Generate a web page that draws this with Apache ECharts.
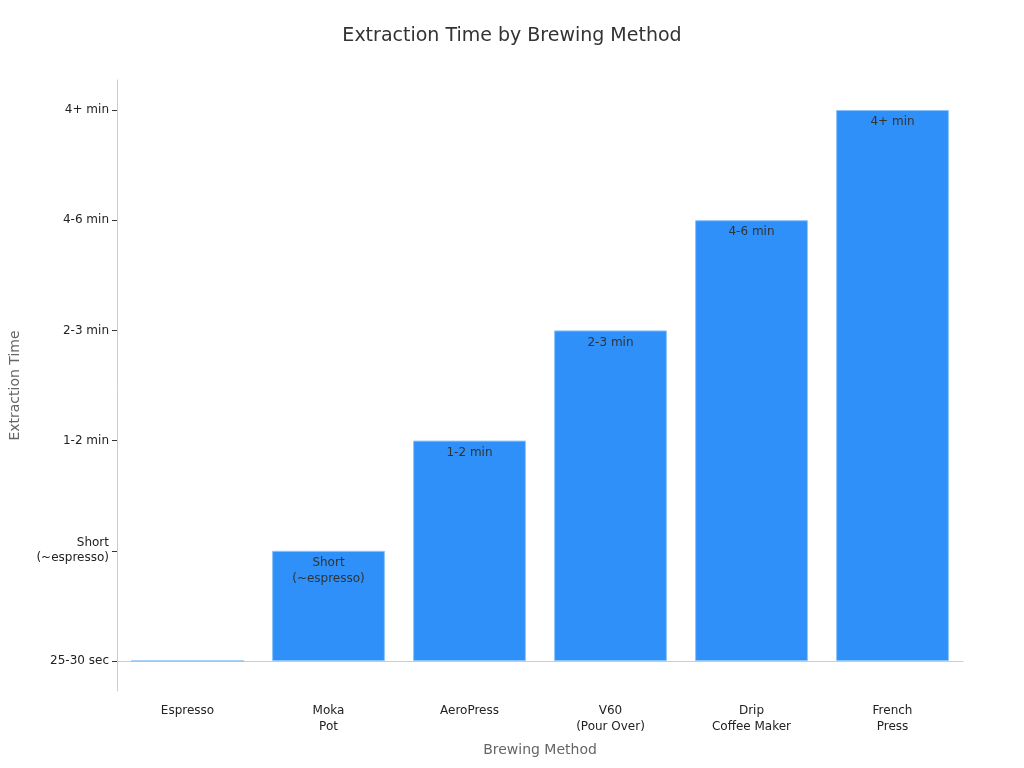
<!DOCTYPE html>
<html><head><meta charset="utf-8">
<script src="https://cdn.jsdelivr.net/npm/echarts@6/dist/echarts.min.js"></script>
<style>html,body{margin:0;padding:0;background:#fff}#c{width:1024px;height:768px}</style>
</head><body><div id="c"></div>
<script>
const categories = ['Espresso','Moka\nPot','AeroPress','V60\n(Pour Over)','Drip\nCoffee Maker','French\nPress'];
const levelLabels = ['25-30 sec','Short\n(~espresso)','1-2 min','2-3 min','4-6 min','4+ min'];
const levels = [0,1,2,3,4,5];
const barLabels = ['','Short\n(~espresso)','1-2 min','2-3 min','4-6 min','4+ min'];
const chart = echarts.init(document.getElementById('c'));
chart.setOption({
  textStyle:{fontFamily:'DejaVu Sans'},
  title:{text:'Extraction Time by Brewing Method',left:'center',top:22,textStyle:{fontSize:19,fontWeight:'normal',color:'#333'}},
  grid:{left:116,right:61,top:80,bottom:77},
  xAxis:{type:'category',data:categories,name:'Brewing Method',nameLocation:'middle',nameGap:52,
    nameTextStyle:{fontSize:14,color:'#666'},
    axisLine:{lineStyle:{color:'#ccc'}},axisTick:{show:false},
    axisLabel:{color:'#222',fontSize:12,margin:12,lineHeight:16}},
  yAxis:{type:'value',min:-0.272,max:5.272,name:'Extraction Time',nameLocation:'middle',nameGap:95,
    nameTextStyle:{fontSize:14,color:'#666'},
    splitLine:{show:false},
    axisLine:{show:true,lineStyle:{color:'#ccc'}},
    axisTick:{show:true,customValues:levels,lineStyle:{color:'#333'}},
    axisLabel:{customValues:levels,color:'#222',fontSize:12,lineHeight:15,formatter:v=>levelLabels[Math.round(v)]}},
  series:[{type:'bar',data:levels,barWidth:'80%',
    itemStyle:{color:'#2E90F8',borderColor:'#8cc4fb',borderWidth:1},
    label:{show:true,position:'insideTop',color:'#333',fontSize:12,lineHeight:16,offset:[0,-1],formatter:p=>barLabels[p.dataIndex]}}]
});
</script></body></html>
